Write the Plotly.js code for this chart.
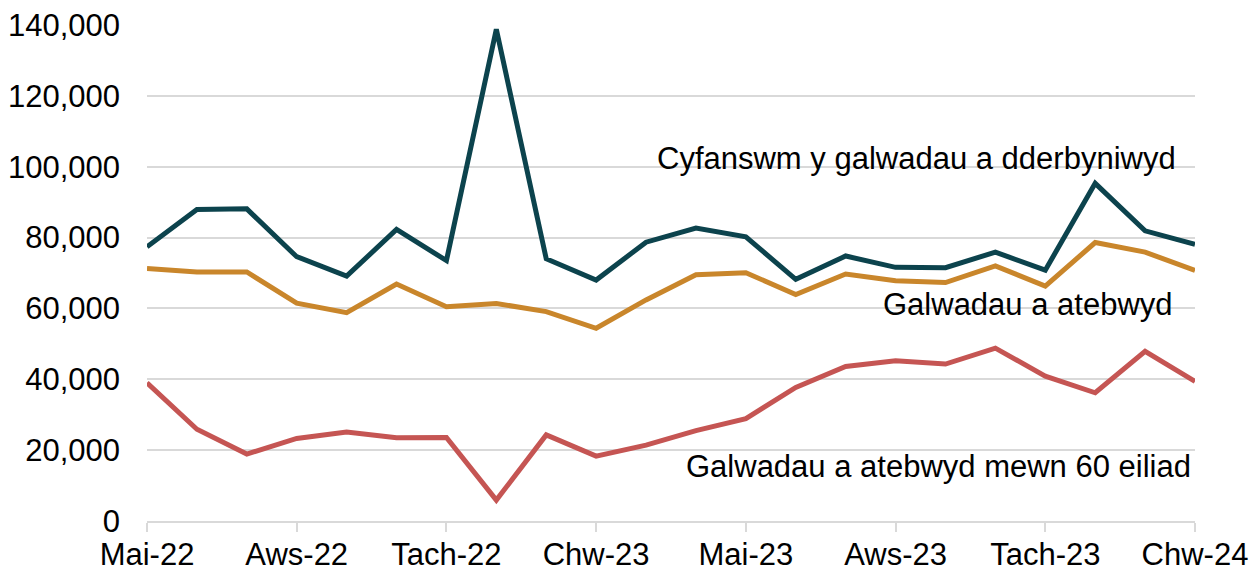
<!DOCTYPE html>
<html>
<head>
<meta charset="utf-8">
<script src="https://cdn.plot.ly/plotly-3.0.1.min.js"></script>
<style>html,body{margin:0;padding:0;background:#fff;}#chart{width:1257px;height:572px;}</style>
</head>
<body>
<div id="chart"></div>
<script>
const months = ["Mai-22","Meh-22","Gor-22","Aws-22","Med-22","Hyd-22","Tach-22","Rhag-22","Ion-23","Chw-23","Maw-23","Ebr-23","Mai-23","Meh-23","Gor-23","Aws-23","Med-23","Hyd-23","Tach-23","Rhag-23","Ion-24","Chw-24"];
const totalCalls = [77400,87900,88100,74600,69100,82300,73500,138800,74000,68000,78700,82700,80200,68200,74800,71600,71500,75900,70800,95300,81900,78100];
const answered = [71300,70300,70300,61500,58800,66900,60500,61400,59100,54400,62400,69500,70100,63900,69700,67800,67300,72000,66300,78600,75900,70700];
const answered60 = [39000,25900,18900,23300,25100,23500,23600,5900,24300,18300,21400,25500,28900,37700,43600,45200,44300,48800,40900,36200,47900,39400];
const tickLabels = ["Mai-22","Aws-22","Tach-22","Chw-23","Mai-23","Aws-23","Tach-23","Chw-24"];
const seriesNames = ["Cyfanswm y galwadau a dderbyniwyd","Galwadau a atebwyd","Galwadau a atebwyd mewn 60 eiliad"];

const font = "Liberation Sans, Arial, sans-serif";
const fs = 31;
const traces = [
  {x: months, y: totalCalls, name: seriesNames[0], line: {color: "#0c434d", width: 5}},
  {x: months, y: answered, name: seriesNames[1], line: {color: "#c9862b", width: 5}},
  {x: months, y: answered60, name: seriesNames[2], line: {color: "#c55553", width: 5}}
].map(t => Object.assign({type: "scatter", mode: "lines", hoverinfo: "x+y"}, t));

const layout = {
  width: 1257, height: 572,
  margin: {l: 147, r: 62, t: 25, b: 51},
  paper_bgcolor: "#fff", plot_bgcolor: "#fff",
  showlegend: false,
  font: {family: font, size: fs, color: "#000"},
  xaxis: {
    type: "category", range: [0, months.length - 1],
    tickmode: "array", tickvals: tickLabels, ticktext: tickLabels,
    ticks: "outside", ticklen: 9, tickcolor: "#d9d9d9", tickwidth: 2,
    showline: true, linecolor: "#d9d9d9", linewidth: 2,
    showgrid: false, zeroline: false, ticklabelstandoff: -4,
    tickfont: {family: font, size: fs, color: "#000"}
  },
  yaxis: {
    range: [0, 140000], dtick: 20000, tickformat: ",",
    showgrid: true, gridcolor: "#d9d9d9", gridwidth: 2,
    zeroline: false, showline: false, ticks: "", ticklabelstandoff: 26,
    tickfont: {family: font, size: fs, color: "#000"}
  },
  annotations: [
    {text: seriesNames[0], xref: "paper", yref: "y", x: 0.984, y: 102400, xanchor: "right", yanchor: "middle", showarrow: false, font: {family: font, size: fs, color: "#000"}},
    {text: seriesNames[1], xref: "paper", yref: "y", x: 0.981, y: 61000, xanchor: "right", yanchor: "middle", showarrow: false, font: {family: font, size: fs, color: "#000"}},
    {text: seriesNames[2], xref: "paper", yref: "y", x: 0.998, y: 15500, xanchor: "right", yanchor: "middle", showarrow: false, font: {family: font, size: fs, color: "#000"}}
  ]
};

Plotly.newPlot("chart", traces, layout, {displayModeBar: false, staticPlot: true});
</script>
</body>
</html>
